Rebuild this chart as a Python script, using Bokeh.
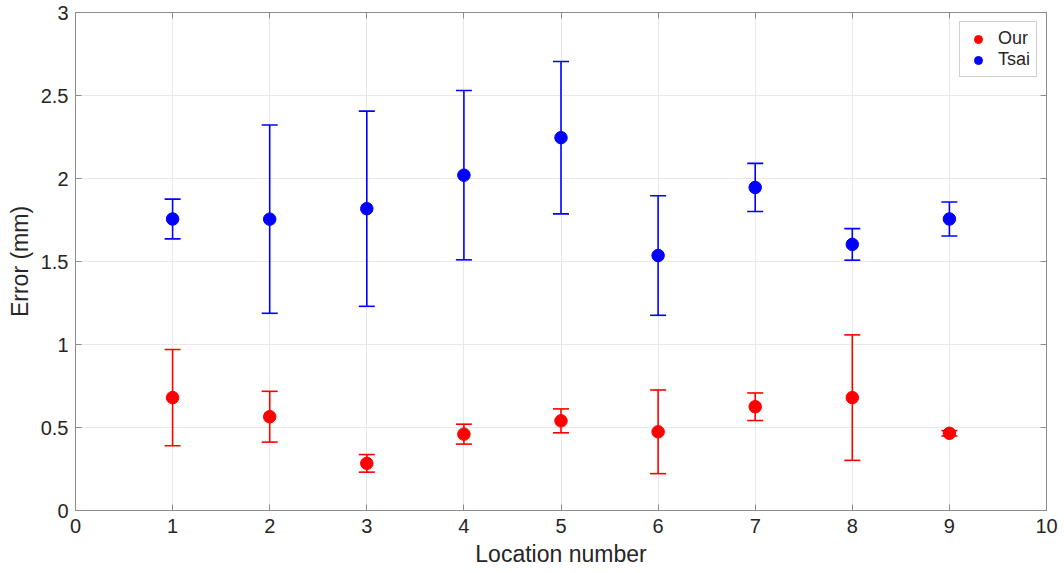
from bokeh.plotting import figure
from bokeh.models import (ColumnDataSource, Whisker, TeeHead, Legend, LegendItem,
                          LinearAxis, FixedTicker, Range1d)
from bokeh.embed import file_html
from bokeh.resources import INLINE

# ---- data ----
locations = [1, 2, 3, 4, 5, 6, 7, 8, 9]
our_mean = [0.68, 0.565, 0.284, 0.46, 0.54, 0.474, 0.625, 0.68, 0.465]
our_err = [0.29, 0.153, 0.053, 0.06, 0.072, 0.252, 0.083, 0.378, 0.016]
tsai_mean = [1.756, 1.755, 1.818, 2.02, 2.246, 1.536, 1.946, 1.603, 1.756]
tsai_err = [0.12, 0.567, 0.588, 0.51, 0.459, 0.36, 0.145, 0.095, 0.102]
series_names = ["Our", "Tsai"]
x_ticks = [0, 1, 2, 3, 4, 5, 6, 7, 8, 9, 10]
x_tick_labels = ["0", "1", "2", "3", "4", "5", "6", "7", "8", "9", "10"]
y_ticks = [0, 0.5, 1, 1.5, 2, 2.5, 3]
y_tick_labels = ["0", "0.5", "1", "1.5", "2", "2.5", "3"]
x_label = "Location number"
y_label = "Error (mm)"

FONT = "Liberation Sans"
TEXT = "#262626"
AXIS = "#8c8c8c"
RED = "#ff0000"
BLUE = "#0000ff"

p = figure(width=1064, height=573, output_backend="svg", toolbar_location=None,
           x_range=Range1d(0, 10), y_range=Range1d(0, 3),
           min_border_left=75, min_border_right=18, min_border_top=12,
           min_border_bottom=63, background_fill_color="white",
           border_fill_color="white")
p.outline_line_color = AXIS

def style_axis(ax, ticks, labels, show_labels=True):
    ax.ticker = FixedTicker(ticks=ticks)
    ax.axis_line_color = AXIS
    ax.major_tick_line_color = AXIS
    ax.major_tick_in = 6
    ax.major_tick_out = 0
    ax.minor_tick_line_color = None
    if show_labels:
        ax.major_label_overrides = {t: l for t, l in zip(ticks, labels)}
        ax.major_label_text_font = FONT
        ax.major_label_text_font_size = "20px"
        ax.major_label_text_color = TEXT
        ax.axis_label_text_font = FONT
        ax.axis_label_text_font_size = "23px"
        ax.axis_label_text_font_style = "normal"
        ax.axis_label_text_color = TEXT
    else:
        ax.major_label_overrides = {t: "" for t in ticks}
        ax.major_label_text_font_size = "1px"
        ax.major_label_standoff = 0

style_axis(p.xaxis[0], x_ticks, x_tick_labels)
style_axis(p.yaxis[0], y_ticks, y_tick_labels)
p.xaxis.axis_label = x_label
p.yaxis.axis_label = y_label
p.xaxis.major_label_standoff = 8
p.xaxis.axis_label_standoff = 5
p.yaxis.major_label_standoff = 7
p.yaxis.axis_label_standoff = 5

top_axis = LinearAxis()
right_axis = LinearAxis()
style_axis(top_axis, x_ticks, x_tick_labels, show_labels=False)
style_axis(right_axis, y_ticks, y_tick_labels, show_labels=False)
p.add_layout(top_axis, "above")
p.add_layout(right_axis, "right")

p.xgrid.ticker = FixedTicker(ticks=x_ticks)
p.ygrid.ticker = FixedTicker(ticks=y_ticks)
p.xgrid.grid_line_color = "#e8e8e8"
p.ygrid.grid_line_color = "#e8e8e8"

renderers = []
for name, mean, err, col in [(series_names[0], our_mean, our_err, RED),
                             (series_names[1], tsai_mean, tsai_err, BLUE)]:
    src = ColumnDataSource(dict(
        x=locations, y=mean,
        lower=[m - e for m, e in zip(mean, err)],
        upper=[m + e for m, e in zip(mean, err)]))
    w = Whisker(source=src, base="x", lower="lower", upper="upper",
                dimension="height", line_color=col, line_width=1.6,
                upper_head=TeeHead(size=16, line_color=col, line_width=1.6),
                lower_head=TeeHead(size=16, line_color=col, line_width=1.6))
    p.add_layout(w)
    r = p.scatter("x", "y", source=src, size=12.5, fill_color=col, line_color=col)
    renderers.append((name, r))

legend = Legend(items=[LegendItem(label=n, renderers=[r]) for n, r in renderers],
                location="top_right", margin=9, padding=6, spacing=0,
                glyph_width=24, glyph_height=20, label_height=20,
                label_standoff=8, label_text_font=FONT,
                label_text_font_size="18px", label_text_color=TEXT,
                border_line_color="#a0a0a0", border_line_width=1,
                background_fill_color="white", background_fill_alpha=1.0)
p.add_layout(legend)

open("out.html", "w").write(file_html(p, INLINE))
